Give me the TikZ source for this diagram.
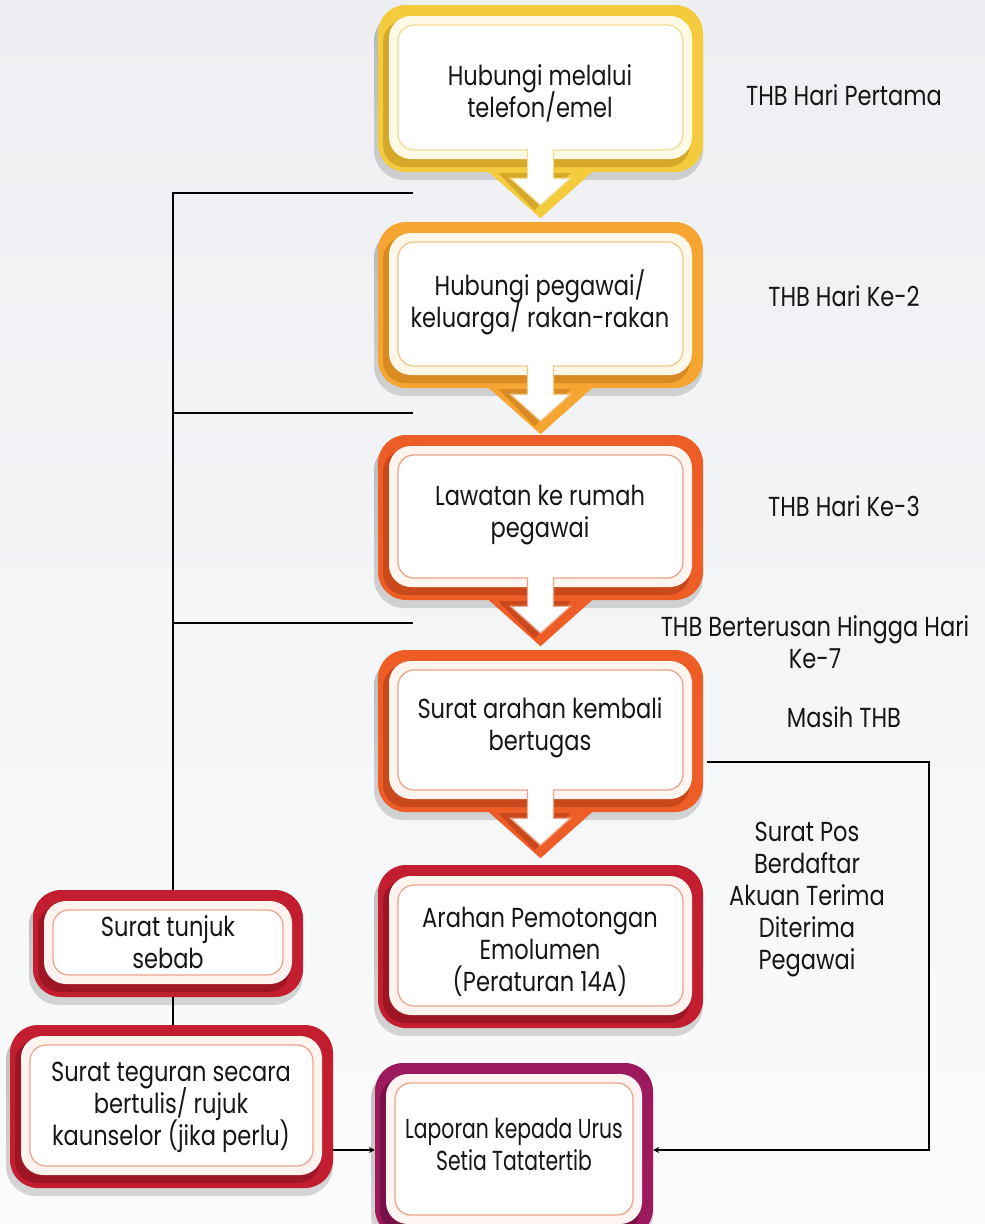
\documentclass[tikz,border=0pt]{standalone}
\usepackage{fontspec}
\setmainfont{Poppins}[FakeStretch=0.82]
\newfontfamily\snugfont{Poppins}[FakeStretch=0.74]
\usetikzlibrary{calc,arrows.meta}

% palette
\definecolor{ink}{HTML}{161616}
\definecolor{bgtop}{HTML}{EDEFF2}
\definecolor{bgbot}{HTML}{FBFBFC}
\definecolor{shade}{HTML}{8A8A8A}
\definecolor{gold}{HTML}{F4CB3C}\definecolor{golddk}{HTML}{D6A82A}
\definecolor{goldln}{HTML}{F1DC92}\definecolor{goldcr}{HTML}{FFFAE6}
\definecolor{amber}{HTML}{F6A531}\definecolor{amberdk}{HTML}{D98A22}
\definecolor{amberln}{HTML}{EFC98A}\definecolor{ambercr}{HTML}{FFF7E8}
\definecolor{flame}{HTML}{EE5D26}\definecolor{flamedk}{HTML}{C9481C}
\definecolor{flameln}{HTML}{EAA48A}\definecolor{flamecr}{HTML}{FFF4EE}
\definecolor{crim}{HTML}{C21E2F}\definecolor{crimdk}{HTML}{9C1626}
\definecolor{crimln}{HTML}{EBA690}\definecolor{crimcr}{HTML}{FFF3F0}
\definecolor{plum}{HTML}{9C195D}\definecolor{plumdk}{HTML}{771146}
\definecolor{plumln}{HTML}{E9A88A}\definecolor{plumcr}{HTML}{FFF4F2}

% fixed 32pt line pitch for all multi-line labels
\newcommand\labelfont{\fontsize{27.5}{32}\selectfont\lineskiplimit=-100pt\relax\lineskip=0pt\relax}

% text nodes are placed by the baseline of their last line
\tikzset{
  boxtext/.style={align=center, anchor=base, inner sep=0pt, text=ink,
    font=\labelfont},
  sidelabel/.style={boxtext},
  link/.style={draw=black, line width=2pt},
  linkarrow/.style={link, -{Stealth[length=6pt,width=6pt]}},
}

% rounded flow box: name, left, top, right, bottom, main, dark, line, cream
\newcommand\flowbox[9]{%
  \fill[shade, opacity=0.18, rounded corners=30] ({#2-4},{#3+6}) rectangle ({#4},{#5+8});
  \node[fill=#6, rounded corners=28, inner sep=0pt,
        minimum width={(#4-#2)*1pt}, minimum height={(#5-#3)*1pt}]
        (#1) at ({(#2+#4)/2},{(#3+#5)/2}) {};
  \fill[#7, rounded corners=22] ({#2+5},{#3+15}) rectangle ({#4-13},{#5-5});
  \fill[#9, rounded corners=22] ({#2+11},{#3+11}) rectangle ({#4-11},{#5-13});
  \draw[#8, fill=white, line width=1.3pt, rounded corners=16]
        ({#2+20},{#3+20}) rectangle ({#4-20},{#5-22});
}

% downward pointer below a flow box: box name, main, dark, line
\newcommand\pointer[4]{%
  \fill[#2] ($(#1.south)+(-56,-4)$) -- ($(#1.south)+(56,-4)$) -- ($(#1.south)+(0,46)$) -- cycle;
  \fill[#3] ($(#1.south)+(-42,1)$) -- ($(#1.south)+(30,1)$) -- ($(#1.south)+(-6,38)$) -- cycle;
  \filldraw[fill=white, draw=#4, line width=1.3pt]
    ($(#1.south)+(-13,-23)$) -- ($(#1.south)+(-13,6)$) -- ($(#1.south)+(-30,6)$)
    -- ($(#1.south)+(0,33)$) -- ($(#1.south)+(30,6)$) -- ($(#1.south)+(13,6)$)
    -- ($(#1.south)+(13,-23)$);
}

\begin{document}
\begin{tikzpicture}[x=1pt,y=-1pt]
  % canvas
  \shade[top color=bgtop, bottom color=bgbot] (0,0) rectangle (985,1224);
  \useasboundingbox (0,0) rectangle (985,1224);

  % main column
  \flowbox{hub}{378}{5}{703}{172}{gold}{golddk}{goldln}{goldcr}
  \node[boxtext] (hubt) at (540,117) {Hubungi melalui\\telefon/emel};
  \pointer{hub}{gold}{golddk}{goldln}

  \flowbox{kel}{378}{222}{703}{388}{amber}{amberdk}{amberln}{ambercr}
  \node[boxtext] (kelt) at (540,327) {Hubungi pegawai/\\keluarga/ rakan-rakan};
  \pointer{kel}{amber}{amberdk}{amberln}

  \flowbox{law}{378}{435}{703}{600}{flame}{flamedk}{flameln}{flamecr}
  \node[boxtext] (lawt) at (540,537) {Lawatan ke rumah\\pegawai};
  \pointer{law}{flame}{flamedk}{flameln}

  \flowbox{ara}{378}{650}{703}{812}{flame}{flamedk}{flameln}{flamecr}
  \node[boxtext] (arat) at (540,750) {Surat arahan kembali\\bertugas};
  \pointer{ara}{flame}{flamedk}{flameln}

  \flowbox{emo}{378}{865}{703}{1028}{crim}{crimdk}{crimln}{crimcr}
  \node[boxtext] (emot) at (540,991) {Arahan Pemotongan\\Emolumen\\(Peraturan 14A)};

  \flowbox{lap}{375}{1063}{653}{1237}{plum}{plumdk}{plumln}{plumcr}
  \node[boxtext] (lapt) at (514,1170) {\snugfont Laporan kepada Urus\\\snugfont Setia Tatatertib};

  % disciplinary column
  \flowbox{tun}{33}{890}{303}{997}{crim}{crimdk}{crimln}{crimcr}
  \node[boxtext] (tunt) at (168,968) {Surat tunjuk\\sebab};

  \flowbox{teg}{10}{1025}{333}{1188}{crim}{crimdk}{crimln}{crimcr}
  \node[boxtext] (tegt) at (171,1145) {Surat teguran secara\\bertulis/ rujuk\\kaunselor (jika perlu)};

  % day labels
  \node[sidelabel] (d1) at (844,105) {THB Hari Pertama};
  \node[sidelabel] (d2) at (844,306) {THB Hari Ke-2};
  \node[sidelabel] (d3) at (844,516) {THB Hari Ke-3};
  \node[sidelabel] (d7) at (815,668) {THB Berterusan Hingga Hari\\Ke-7};
  \node[sidelabel] (ms) at (844,727) {Masih THB};
  \node[sidelabel] (pos) at (807,969) {Surat Pos\\Berdaftar\\Akuan Terima\\Diterima\\Pegawai};

  % escalation bracket
  \coordinate (s1) at (173,193);
  \coordinate (s2) at (173,413);
  \coordinate (s3) at (173,623);
  \coordinate (e1) at (413,193);
  \coordinate (e2) at (413,413);
  \coordinate (e3) at (413,623);
  \draw[link] (e1) -- (s1) -- (tun.north -| s1);
  \draw[link] (s2) -- (e2);
  \draw[link] (s3) -- (e3);
  \draw[link] (tun.south -| s1) -- (teg.north -| s1);
  \draw[linkarrow] (teg.east |- lap.west) -- (lap.west);
  \draw[linkarrow] ([xshift=4pt,yshift=-31pt]ara.east) -- ++(222,0) |- (lap.east);
\end{tikzpicture}
\end{document}
